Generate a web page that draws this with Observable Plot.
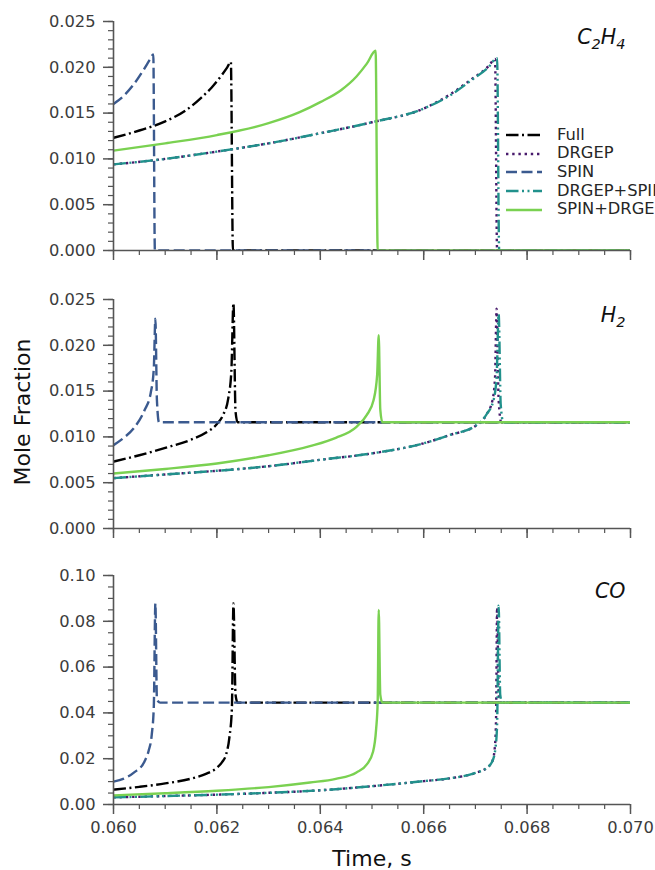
<!DOCTYPE html>
<html>
<head>
<meta charset="utf-8">
<script src="https://cdn.jsdelivr.net/npm/d3@7"></script>
<script src="https://cdn.jsdelivr.net/npm/@observablehq/plot@0.6"></script>
<style>
  html, body { margin: 0; padding: 0; background: #fff; overflow: hidden; }
  #fig { position: relative; width: 655px; height: 870px; font-family: "DejaVu Sans", sans-serif; overflow: hidden; }
  #fig > svg { position: absolute; left: 0; }
  #legend { position: absolute; left: 506px; top: 125.6px; z-index: 2; white-space: nowrap; }
  #legend .row { height: 18.7px; display: flex; align-items: center; }
  #legend svg { display: block; margin-right: 15px; flex: none; }
  #legend span { font-size: 16.3px; line-height: 18.7px; color: #262626; }
</style>
</head>
<body>
<div id="fig"><div id="legend"></div></div>
<script>
// ---- mechanisms (legend order) and their line styles ----
const series = ["Full", "DRGEP", "SPIN", "DRGEP+SPIN", "SPIN+DRGEP"];
const colors = ["#000000", "#481a6c", "#3b5a8f", "#21918c", "#7ad151"];
const dashes = ["12.5,3.5,2,3.5", "2.4,3.8", "11,4.5", "12.5,3.5,2,3.5,2,3.5", null];

// ---- axes ----
const timeDomain = [0.060, 0.070];
const timeTicks = [0.060, 0.062, 0.064, 0.066, 0.068, 0.070];
const smallYTicks = [0.000, 0.005, 0.010, 0.015, 0.020, 0.025];
const coYTicks = [0.00, 0.02, 0.04, 0.06, 0.08, 0.10];
const panelLabels = ["C_2H_4", "H_2", "CO"];

// ---- C2H4 mole fraction, [time (s), value] ----
const c2h4Full = [[0.0600,0.0123],[0.0605,0.0131],[0.0610,0.0141],[0.0614,0.0153],[0.0617,0.0167],[0.0619,0.0178],[0.0621,0.0192],[0.0622,0.0200],[0.06227,0.0206],[0.06231,0.0000],[0.0700,0.0000]];
const c2h4Drgep = [[0.0600,0.0094],[0.0610,0.0100],[0.0620,0.0108],[0.0630,0.0117],[0.0640,0.0128],[0.0650,0.0140],[0.0660,0.0155],[0.0665,0.0170],[0.0669,0.0186],[0.06725,0.0201],[0.06738,0.0209],[0.06742,0.0000],[0.0700,0.0000]];
const c2h4Spin = [[0.0600,0.0160],[0.0602,0.0169],[0.0604,0.0182],[0.06058,0.0197],[0.0607,0.0208],[0.06077,0.0214],[0.06080,0.0000],[0.0700,0.0000]];
const c2h4DrgepSpin = [[0.0600,0.0094],[0.0610,0.0100],[0.0620,0.0108],[0.0630,0.0117],[0.0640,0.0128],[0.0650,0.0140],[0.0660,0.0155],[0.0665,0.0169],[0.0669,0.0185],[0.06725,0.0200],[0.06742,0.0210],[0.06746,0.0000],[0.0700,0.0000]];
const c2h4SpinDrgep = [[0.0600,0.0109],[0.0610,0.0117],[0.0620,0.0126],[0.0630,0.0139],[0.0636,0.0151],[0.0640,0.0162],[0.0644,0.0175],[0.0647,0.0190],[0.0649,0.0204],[0.06507,0.0218],[0.06511,0.0000],[0.0700,0.0000]];

// ---- H2 mole fraction ----
const h2Full = [[0.0600,0.0073],[0.0605,0.0080],[0.0610,0.0088],[0.0615,0.0097],[0.0618,0.0105],[0.0620,0.0114],[0.06212,0.0124],[0.06222,0.0142],[0.06228,0.0172],[0.06232,0.0246],[0.06236,0.0128],[0.0624,0.0116],[0.0700,0.0116]];
const h2Drgep = [[0.0600,0.0055],[0.0610,0.0059],[0.0620,0.0063],[0.0630,0.0068],[0.0640,0.0075],[0.0650,0.0082],[0.0660,0.0093],[0.0665,0.0102],[0.0670,0.0112],[0.06722,0.0125],[0.06733,0.0140],[0.06738,0.0165],[0.06741,0.0240],[0.06745,0.0140],[0.0675,0.0116],[0.0700,0.0116]];
const h2Spin = [[0.0600,0.0091],[0.0602,0.0099],[0.0604,0.0110],[0.0606,0.0129],[0.06072,0.0148],[0.06078,0.0175],[0.06081,0.0229],[0.06084,0.0140],[0.06088,0.0116],[0.0700,0.0116]];
const h2DrgepSpin = [[0.0600,0.0055],[0.0610,0.0059],[0.0620,0.0063],[0.0630,0.0068],[0.0640,0.0075],[0.0650,0.0082],[0.0660,0.0093],[0.0665,0.0102],[0.0670,0.0112],[0.06722,0.0125],[0.06735,0.0140],[0.06741,0.0165],[0.06745,0.0234],[0.06749,0.0135],[0.06754,0.0116],[0.0700,0.0116]];
const h2SpinDrgep = [[0.0600,0.0060],[0.0610,0.0065],[0.0620,0.0071],[0.0630,0.0080],[0.0638,0.0090],[0.0643,0.0099],[0.0647,0.0111],[0.0649,0.0124],[0.06503,0.0140],[0.0651,0.0168],[0.06513,0.0211],[0.06516,0.0130],[0.0652,0.0116],[0.0700,0.0116]];

// ---- CO mole fraction ----
const coFull = [[0.0600,0.0065],[0.0605,0.0077],[0.0610,0.0092],[0.0615,0.0113],[0.0618,0.0135],[0.0620,0.0160],[0.0621,0.0185],[0.06218,0.0220],[0.06224,0.0290],[0.06229,0.0420],[0.06232,0.0878],[0.06236,0.0480],[0.0624,0.0445],[0.0700,0.0445]];
const coDrgep = [[0.0600,0.0031],[0.0610,0.0037],[0.0620,0.0043],[0.0630,0.0051],[0.0640,0.0062],[0.0650,0.0080],[0.0660,0.0102],[0.0665,0.0114],[0.0670,0.0138],[0.06722,0.0160],[0.06733,0.0190],[0.06738,0.0260],[0.06740,0.0380],[0.06742,0.0860],[0.06745,0.0480],[0.0675,0.0445],[0.0700,0.0445]];
const coSpin = [[0.0600,0.0100],[0.0602,0.0113],[0.0604,0.0140],[0.0606,0.0188],[0.06068,0.0235],[0.06074,0.0305],[0.06078,0.0430],[0.06081,0.0878],[0.06084,0.0460],[0.0609,0.0445],[0.0700,0.0445]];
const coDrgepSpin = [[0.0600,0.0031],[0.0610,0.0037],[0.0620,0.0043],[0.0630,0.0051],[0.0640,0.0062],[0.0650,0.0080],[0.0660,0.0102],[0.0665,0.0114],[0.0670,0.0138],[0.06722,0.0160],[0.06733,0.0190],[0.06739,0.0250],[0.06742,0.0350],[0.06745,0.0868],[0.06748,0.0480],[0.06752,0.0445],[0.0700,0.0445]];
const coSpinDrgep = [[0.0600,0.0040],[0.0610,0.0049],[0.0620,0.0060],[0.0630,0.0076],[0.0638,0.0096],[0.0643,0.0112],[0.0647,0.0140],[0.0649,0.0175],[0.06502,0.0230],[0.06508,0.0330],[0.06511,0.0450],[0.06513,0.0850],[0.06516,0.0480],[0.0652,0.0445],[0.0700,0.0445]];

// long-format rows for one panel
function rowsOf(arrays) {
  return arrays.flatMap((arr, i) => arr.map(([t, v]) => ({t, v, s: series[i]})));
}

const INNER = 229;
const AXIS_GREY = "#555555";
const TEXT_GREY = "#3c3c3c";
const LINE_W = 2.4;

function panel({rows, yDomain, yTicks, minorStep, fmt, label, top, marginTop, marginBottom, bottomPanel, yTitle}) {
  const minorX = d3.range(0, 21).map(i => timeDomain[0] + i * 0.0005);
  const nMinorY = Math.round((yDomain[1] - yDomain[0]) / minorStep);
  const minorY = d3.range(0, nMinorY + 1).map(i => yDomain[0] + i * minorStep);
  const marks = [
    // minor and major ticks
    Plot.axisY(minorY, {tickSize: 5, tickFormat: () => "", label: null, stroke: AXIS_GREY, strokeWidth: 1.2}),
    Plot.axisY(yTicks, {tickSize: 10, tickPadding: 8, tickFormat: d3.format(fmt), label: null,
      stroke: AXIS_GREY, strokeWidth: 1.5, fill: TEXT_GREY, fontSize: 16.3}),
    Plot.axisX(minorX, {tickSize: 5, tickFormat: () => "", label: null, stroke: AXIS_GREY, strokeWidth: 1.2}),
    Plot.axisX(timeTicks, {tickSize: 10, tickPadding: 7,
      tickFormat: bottomPanel ? d3.format(".3f") : () => "", label: null,
      stroke: AXIS_GREY, strokeWidth: 1.5, fill: TEXT_GREY, fontSize: 16.3}),
    // species profiles
    ...series.map((name, i) => Plot.line(rows.filter(r => r.s === name), {
      x: "t", y: "v", curve: "monotone-x", clip: true,
      stroke: colors[i], strokeWidth: LINE_W, strokeDasharray: dashes[i],
      strokeLinecap: "butt", strokeLinejoin: "round"
    })),
    // left and bottom spines
    Plot.ruleX([timeDomain[0]], {stroke: AXIS_GREY, strokeWidth: 1.6}),
    Plot.ruleY([yDomain[0]], {stroke: AXIS_GREY, strokeWidth: 1.6}),
    // species name
    Plot.text([label], {frameAnchor: "top-right", dx: -5, dy: 16, textAnchor: "end", lineAnchor: "middle",
      fontSize: 20.5, fontStyle: "italic", fill: "#111", className: "panel-label"})
  ];
  if (yTitle) marks.push(Plot.text([yTitle], {frameAnchor: "left", dx: -91, dy: -2, rotate: -90, textAnchor: "middle",
    lineAnchor: "middle", fontSize: 22, fill: "#111"}));
  if (bottomPanel) marks.push(Plot.text(["Time, s"], {frameAnchor: "bottom", dy: 54, textAnchor: "middle",
    lineAnchor: "middle", fontSize: 22, fill: "#111"}));

  const svg = Plot.plot({
    width: 655,
    height: marginTop + INNER + marginBottom,
    marginLeft: 113, marginRight: 25, marginTop, marginBottom,
    x: {domain: timeDomain},
    y: {domain: yDomain},
    style: {fontFamily: "DejaVu Sans, sans-serif", fontSize: "16px", color: TEXT_GREY, background: "transparent", overflow: "visible"},
    marks
  });
  svg.style.top = top + "px";

  // typeset subscripts in the species name
  d3.select(svg).selectAll(".panel-label text").each(function() {
    const raw = this.textContent;
    const el = d3.select(this);
    el.text(null);
    let wasSub = false;
    raw.split(/(_\d)/).filter(Boolean).forEach(part => {
      if (part.startsWith("_")) {
        el.append("tspan").attr("font-size", 14.5).attr("dy", 4.5).text(part.slice(1));
        wasSub = true;
      } else {
        el.append("tspan").attr("dy", wasSub ? -4.5 : null).text(part);
        wasSub = false;
      }
    });
  });
  return svg;
}

const fig = document.getElementById("fig");
fig.appendChild(panel({
  rows: rowsOf([c2h4Full, c2h4Drgep, c2h4Spin, c2h4DrgepSpin, c2h4SpinDrgep]),
  yDomain: [0, 0.025], yTicks: smallYTicks, minorStep: 0.001, fmt: ".3f",
  label: panelLabels[0], top: 0, marginTop: 21, marginBottom: 24, bottomPanel: false
}));
fig.appendChild(panel({
  rows: rowsOf([h2Full, h2Drgep, h2Spin, h2DrgepSpin, h2SpinDrgep]),
  yDomain: [0, 0.025], yTicks: smallYTicks, minorStep: 0.001, fmt: ".3f",
  label: panelLabels[1], top: 274, marginTop: 25, marginBottom: 23, bottomPanel: false,
  yTitle: "Mole Fraction"
}));
fig.appendChild(panel({
  rows: rowsOf([coFull, coDrgep, coSpin, coDrgepSpin, coSpinDrgep]),
  yDomain: [0, 0.10], yTicks: coYTicks, minorStep: 0.005, fmt: ".2f",
  label: panelLabels[2], top: 551, marginTop: 24, marginBottom: 66, bottomPanel: true
}));

// legend
const legend = d3.select("#legend");
series.forEach((name, i) => {
  const row = legend.append("div").attr("class", "row");
  const sw = row.append("svg").attr("width", 36).attr("height", 10);
  sw.append("line").attr("x1", 0).attr("x2", 36).attr("y1", 5).attr("y2", 5)
    .attr("stroke", colors[i]).attr("stroke-width", LINE_W)
    .attr("stroke-dasharray", dashes[i]);
  row.append("span").text(name);
});
</script>
</body>
</html>
